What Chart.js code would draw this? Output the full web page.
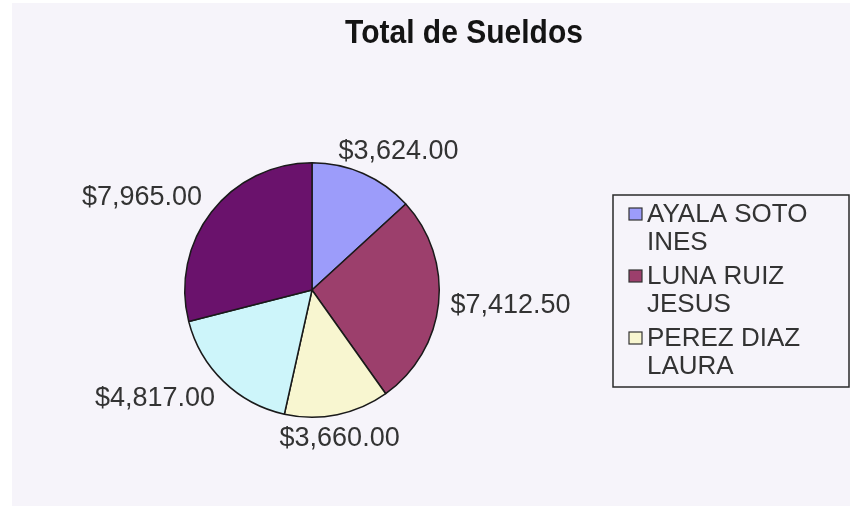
<!DOCTYPE html>
<html>
<head>
<meta charset="utf-8">
<script src="https://cdn.jsdelivr.net/npm/chart.js@4"></script>
<style>
  html, body { margin: 0; padding: 0; background: #ffffff; }
  #wrap { width: 850px; height: 508px; }
</style>
</head>
<body>
<div id="wrap"><canvas id="sueldosChart" width="850" height="508"></canvas></div>
<script>
// datos del grafico
const titulo = "Total de Sueldos";
const empleados = [
    ["AYALA SOTO", "INES"],
    ["LUNA RUIZ", "JESUS"],
    ["PEREZ DIAZ", "LAURA"],
    ["(no visible)"],
    ["(no visible)"]
];
const sueldos = [3624.00, 7412.50, 3660.00, 4817.00, 7965.00];
const colores = ["#9c9cfa", "#9c3f6c", "#f8f6d0", "#cdf5fa", "#6a126c"];

const fmt = v => "$" + v.toLocaleString("en-US", { minimumFractionDigits: 2, maximumFractionDigits: 2 });

// fondo lavanda + titulo
const fondoPlugin = {
    id: "fondo",
    beforeDraw(chart) {
        const ctx = chart.ctx;
        ctx.save();
        ctx.fillStyle = "#f6f4fa";
        ctx.fillRect(12, 3, 838, 503);
        ctx.fillStyle = "#141414";
        ctx.font = "bold 30px 'Liberation Sans', Arial, sans-serif";
        ctx.textAlign = "center";
        ctx.textBaseline = "middle";
        ctx.translate(464, 34);
        ctx.scale(1, 1.1);   // el titulo original se ve algo mas alto
        ctx.fillText(titulo, 0, 0);
        ctx.restore();
    }
};

// etiquetas de valores alrededor del pastel
const etiquetasPlugin = {
    id: "etiquetas",
    afterDatasetsDraw(chart) {
        const ctx = chart.ctx;
        const meta = chart.getDatasetMeta(0);
        ctx.save();
        ctx.font = "27px 'Liberation Sans', Arial, sans-serif";
        ctx.fillStyle = "#333333";
        ctx.textAlign = "center";
        ctx.textBaseline = "middle";
        meta.data.forEach((arc, i) => {
            const mid = (arc.startAngle + arc.endAngle) / 2;
            const ux = Math.cos(mid), uy = Math.sin(mid);
            const txt = fmt(sueldos[i]);
            const w = ctx.measureText(txt).width;
            const h = 24;
            const r = arc.outerRadius + 12;
            // desplazamiento horizontal: nada cerca de la vertical, medio ancho hacia los lados
            const f = Math.min(1, Math.max(0, (Math.abs(ux) - 0.2) * 2.5));
            const x = arc.x + ux * r + Math.sign(ux) * f * w / 2;
            const y = arc.y + uy * r + uy * h / 2;
            ctx.fillText(txt, x, y);
        });
        ctx.restore();
    }
};

// leyenda con recuadro (se recorta al tamaño del recuadro)
const leyendaPlugin = {
    id: "leyendaCaja",
    afterDraw(chart) {
        const ctx = chart.ctx;
        const box = { x: 613, y: 195, w: 236, h: 192 };
        ctx.save();
        ctx.beginPath();
        ctx.rect(box.x, box.y, box.w, box.h);
        ctx.clip();
        ctx.font = "26px 'Liberation Sans', Arial, sans-serif";
        ctx.textAlign = "left";
        ctx.textBaseline = "alphabetic";
        let base = 222;
        empleados.forEach((lineas, i) => {
            ctx.fillStyle = colores[i];
            ctx.fillRect(629, base - 14, 13, 12);
            ctx.strokeStyle = "#333333";
            ctx.lineWidth = 1.2;
            ctx.strokeRect(629, base - 14, 13, 12);
            ctx.fillStyle = "#333333";
            lineas.forEach((l, j) => ctx.fillText(l, 647, base + j * 28));
            base += 62;
        });
        ctx.restore();
        ctx.save();
        ctx.strokeStyle = "#2a2a2a";
        ctx.lineWidth = 1.5;
        ctx.strokeRect(box.x, box.y, box.w, box.h);
        ctx.restore();
    }
};

const ctx = document.getElementById("sueldosChart").getContext("2d");
new Chart(ctx, {
    type: "pie",
    data: {
        labels: empleados.map(e => e.join(" ")),
        datasets: [{
            data: sueldos,
            backgroundColor: colores,
            borderColor: "#1a1a1a",
            borderWidth: 1.5,
            hoverOffset: 0
        }]
    },
    options: {
        responsive: false,
        animation: false,
        layout: { padding: { left: 184, right: 410, top: 162, bottom: 90 } },
        plugins: {
            legend: { display: false },
            title: { display: false },
            tooltip: { enabled: false }
        }
    },
    plugins: [fondoPlugin, etiquetasPlugin, leyendaPlugin]
});
</script>
</body>
</html>
